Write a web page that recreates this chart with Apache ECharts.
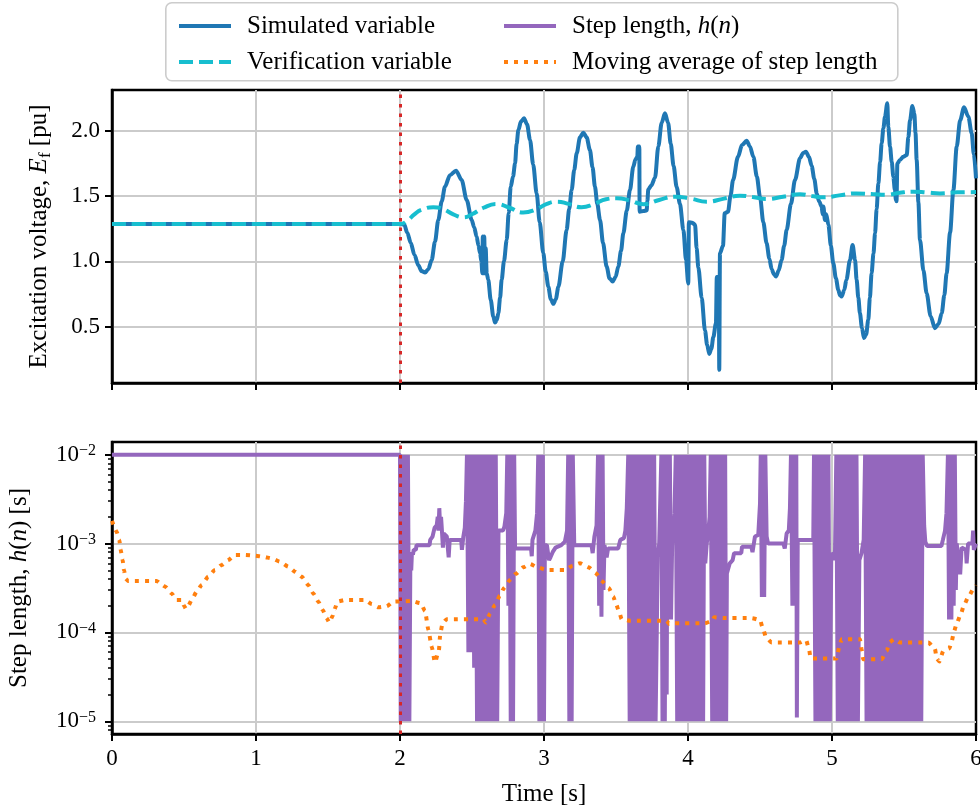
<!DOCTYPE html>
<html><head><meta charset="utf-8">
<script src="https://cdn.jsdelivr.net/npm/echarts@6/dist/echarts.min.js"></script>
<style>html,body{margin:0;padding:0;background:#fff}#c{width:980px;height:811px}</style>
</head><body><div id="c"></div>
<script>
// ---------- data (time [s], value) ----------
const timeTicks = [0, 1, 2, 3, 4, 5, 6];
const voltageTicks = [0.5, 1.0, 1.5, 2.0];
const stepTicks = [1e-5, 1e-4, 1e-3, 1e-2];
const stepMinorTicks = [8e-6, 9e-6, 2e-5, 3e-5, 4e-5, 5e-5, 6e-5, 7e-5, 8e-5, 9e-5, 2e-4, 3e-4, 4e-4, 5e-4, 6e-4, 7e-4, 8e-4, 9e-4, 2e-3, 3e-3, 4e-3, 5e-3, 6e-3, 7e-3, 8e-3, 9e-3];
const disturbanceTime = 2.0;

const simulatedVariable = [
[0,1.286],[2.0,1.286],[2.03,1.28],[2.05,1.22],[2.075,1.14],[2.1,1.05],[2.127,0.97],[2.15,0.925],[2.174,0.914],[2.197,0.94],[2.22,1.01],[2.243,1.15],[2.266,1.317],[2.29,1.46],[2.312,1.571],[2.347,1.66],[2.389,1.694],[2.428,1.623],[2.463,1.47],[2.498,1.317],[2.515,1.26],[2.532,1.19],[2.545,1.12],[2.556,1.062],[2.565,1.0],[2.572,0.909],[2.575,1.19],[2.58,0.909],[2.585,1.19],[2.59,0.909],[2.595,1.1],[2.602,0.909],[2.613,0.858],[2.63,0.705],[2.648,0.577],[2.66,0.531],[2.672,0.55],[2.683,0.603],[2.695,0.72],[2.706,0.858],[2.722,1.0],[2.741,1.164],[2.755,1.37],[2.769,1.571],[2.785,1.65],[2.799,1.75],[2.81,1.9],[2.822,2.005],[2.84,2.07],[2.861,2.095],[2.882,2.05],[2.903,1.93],[2.925,1.74],[2.949,1.52],[2.97,1.3],[2.995,1.062],[3.012,0.92],[3.03,0.806],[3.047,0.71],[3.065,0.674],[3.082,0.71],[3.1,0.806],[3.13,1.0],[3.157,1.24],[3.175,1.40],[3.192,1.546],[3.21,1.70],[3.227,1.827],[3.25,1.95],[3.273,1.985],[3.296,1.95],[3.319,1.852],[3.337,1.72],[3.354,1.571],[3.37,1.44],[3.389,1.317],[3.41,1.14],[3.435,0.96],[3.455,0.87],[3.477,0.845],[3.497,0.88],[3.516,0.96],[3.535,1.08],[3.551,1.215],[3.575,1.39],[3.597,1.546],[3.62,1.724],[3.635,1.78],[3.648,1.80],[3.652,1.88],[3.662,1.88],[3.664,1.38],[3.69,1.385],[3.713,1.39],[3.718,1.46],[3.724,1.55],[3.745,1.58],[3.771,1.64],[3.794,1.88],[3.817,2.06],[3.84,2.133],[3.862,2.06],[3.88,1.90],[3.90,1.73],[3.921,1.57],[3.944,1.44],[3.968,1.24],[3.986,1.01],[4.002,0.83],[4.006,1.30],[4.03,1.295],[4.049,1.28],[4.06,1.10],[4.072,0.95],[4.095,0.72],[4.118,0.47],[4.133,0.36],[4.148,0.291],[4.162,0.33],[4.176,0.42],[4.194,0.526],[4.2,0.88],[4.21,0.88],[4.215,0.6],[4.217,0.169],[4.222,1.06],[4.243,1.12],[4.255,1.368],[4.278,1.38],[4.295,1.50],[4.313,1.623],[4.347,1.80],[4.375,1.89],[4.407,1.923],[4.43,1.88],[4.454,1.80],[4.478,1.65],[4.5,1.495],[4.523,1.30],[4.546,1.138],[4.565,1.02],[4.581,0.94],[4.597,0.90],[4.611,0.883],[4.63,0.93],[4.65,1.01],[4.668,1.12],[4.685,1.24],[4.715,1.44],[4.743,1.623],[4.778,1.79],[4.80,1.83],[4.819,1.84],[4.84,1.80],[4.859,1.73],[4.877,1.63],[4.894,1.52],[4.91,1.46],[4.928,1.42],[4.935,1.36],[4.94,1.42],[4.951,1.317],[4.96,1.36],[4.975,1.28],[4.992,1.12],[5.009,0.985],[5.027,0.87],[5.044,0.78],[5.055,0.74],[5.067,0.73],[5.085,0.78],[5.10,0.858],[5.125,1.01],[5.143,1.125],[5.16,1.01],[5.171,0.858],[5.183,0.72],[5.194,0.603],[5.208,0.49],[5.222,0.412],[5.237,0.44],[5.252,0.552],[5.263,0.72],[5.275,0.909],[5.288,1.06],[5.299,1.215],[5.31,1.40],[5.322,1.597],[5.334,1.76],[5.345,1.904],[5.357,2.02],[5.368,2.107],[5.384,2.21],[5.391,2.03],[5.403,1.878],[5.415,1.76],[5.426,1.648],[5.436,1.55],[5.444,1.47],[5.448,1.46],[5.454,1.75],[5.472,1.776],[5.495,1.80],[5.519,1.814],[5.53,1.95],[5.542,2.08],[5.558,2.19],[5.572,2.13],[5.58,1.98],[5.588,1.776],[5.60,1.45],[5.611,1.164],[5.635,0.93],[5.657,0.756],[5.685,0.58],[5.715,0.488],[5.74,0.52],[5.762,0.603],[5.78,0.74],[5.796,0.909],[5.82,1.22],[5.843,1.546],[5.866,1.878],[5.89,2.08],[5.917,2.18],[5.947,2.107],[5.97,1.98],[5.985,1.82],[6.0,1.636]
];

const verificationVariable = [
[0,1.286],[2.0,1.286],[2.05,1.31],[2.1,1.36],[2.15,1.395],[2.231,1.414],[2.3,1.40],[2.37,1.36],[2.44,1.337],[2.5,1.36],[2.58,1.41],[2.671,1.439],[2.76,1.41],[2.856,1.373],[2.95,1.40],[3.02,1.44],[3.088,1.457],[3.17,1.44],[3.261,1.414],[3.35,1.44],[3.43,1.475],[3.505,1.483],[3.6,1.465],[3.69,1.437],[3.8,1.47],[3.91,1.495],[4.02,1.48],[4.13,1.457],[4.25,1.48],[4.361,1.503],[4.45,1.492],[4.546,1.477],[4.66,1.495],[4.778,1.513],[4.86,1.50],[4.94,1.49],[5.05,1.505],[5.171,1.52],[5.28,1.515],[5.38,1.51],[5.47,1.525],[5.565,1.533],[5.66,1.527],[5.75,1.52],[5.87,1.528],[6.0,1.53]
];

const stepLength = [
[0,1e-2],[2.0,1e-2],
[2.005,1e-5],[2.015,1e-2],[2.025,1e-5],[2.035,1e-2],[2.045,1e-5],[2.055,1e-2],[2.065,1e-5],
[2.072,7e-4],[2.078,5e-4],[2.083,8e-4],[2.09,7.5e-4],[2.095,8.5e-4],[2.11,8.5e-4],[2.115,9.6e-4],[2.205,9.6e-4],[2.21,1.1e-3],[2.222,1.1e-3],[2.226,1.2e-3],[2.235,1.2e-3],[2.24,1.5e-3],[2.255,1.6e-3],[2.262,2.0e-3],[2.267,1.4e-3],[2.273,2.5e-3],[2.278,1.6e-3],[2.285,2.0e-3],[2.29,1.5e-3],[2.298,9e-4],[2.303,1.3e-3],[2.325,1.2e-3],[2.338,7e-4],[2.345,1.1e-3],[2.425,1.1e-3],[2.43,8.5e-4],[2.44,1.2e-3],[2.45,1.5e-3],[2.458,3e-3],
[2.465,1e-2],[2.475,6e-5],[2.485,1e-2],[2.495,6e-5],[2.505,1e-2],[2.515,4e-5],[2.525,1e-2],[2.535,1e-5],[2.545,1e-2],[2.555,1e-5],[2.565,1e-2],[2.575,1e-5],[2.585,1e-2],[2.595,1e-5],[2.605,1e-2],[2.615,1e-5],[2.625,1e-2],[2.635,1e-5],[2.645,1e-2],[2.655,1e-5],[2.665,1e-2],[2.675,1e-5],
[2.684,1.4e-3],[2.715,1.4e-3],[2.725,1.55e-3],[2.738,2.2e-3],
[2.745,1e-2],[2.753,2e-4],[2.761,1e-2],[2.769,1e-5],[2.777,1e-2],[2.785,1e-5],[2.793,1e-2],
[2.799,8.8e-4],[2.91,8.8e-4],[2.915,7.2e-4],[2.92,1.1e-3],[2.94,1.4e-3],[2.952,2.2e-3],
[2.96,1e-2],[2.968,1e-5],[2.976,1e-2],[2.984,1e-5],[2.992,1e-2],[3.0,1e-5],
[3.006,9.6e-4],[3.02,9.6e-4],[3.035,6.5e-4],[3.045,7e-4],[3.06,8e-4],[3.08,9e-4],[3.12,9.6e-4],[3.145,1.05e-3],[3.16,1.4e-3],
[3.168,1e-2],[3.176,1e-5],[3.184,1e-2],[3.192,1e-5],[3.2,1e-2],
[3.21,9.6e-4],[3.33,9.6e-4],[3.338,7.8e-4],[3.35,1.2e-3],[3.365,1.6e-3],
[3.375,1e-2],[3.383,2e-4],[3.391,1e-2],[3.399,1.5e-4],[3.407,1e-2],[3.413,3e-4],
[3.42,9.6e-4],[3.435,7e-4],[3.445,8.8e-4],[3.515,8.8e-4],[3.53,1.1e-3],[3.555,1.15e-3],[3.565,1.4e-3],[3.575,2.5e-3],
[3.585,1e-2],[3.595,1e-5],[3.605,1e-2],[3.615,1e-5],[3.625,1e-2],[3.635,1e-5],[3.645,1e-2],[3.655,1e-5],[3.665,1e-2],[3.675,1e-5],[3.685,1e-2],[3.695,1e-5],[3.705,1e-2],[3.715,1e-5],[3.725,1e-2],[3.735,1e-5],[3.745,1e-2],[3.755,1e-5],[3.765,1e-2],[3.775,1e-5],
[3.79,7.1e-4],[3.80,1e-3],
[3.815,1e-2],[3.823,1e-5],[3.831,1e-2],[3.839,1e-5],[3.847,1e-2],[3.852,2e-5],[3.858,1e-2],[3.866,1.4e-4],[3.874,1e-2],[3.882,1.4e-4],
[3.89,1e-3],[3.9,1.4e-3],[3.906,2.2e-3],
[3.915,1e-2],[3.925,1e-5],[3.935,1e-2],[3.945,1e-5],[3.955,1e-2],[3.965,1e-5],[3.975,1e-2],[3.985,1e-5],[3.995,1e-2],[4.005,1e-5],[4.015,1e-2],[4.025,1e-5],[4.035,1e-2],[4.045,1e-5],[4.055,1e-2],[4.065,1e-5],[4.075,1e-2],[4.085,1e-5],[4.095,1e-2],[4.105,1e-5],[4.113,1e-2],
[4.12,6e-4],[4.13,1e-3],[4.14,1.3e-3],[4.15,2e-3],
[4.158,1e-2],[4.168,1e-5],[4.178,1e-2],[4.188,1e-5],[4.198,1e-2],[4.208,1e-5],[4.218,1e-2],[4.228,1e-5],[4.238,1e-2],[4.248,1e-5],[4.258,1e-2],[4.265,1e-5],
[4.27,4.6e-4],[4.29,6e-4],[4.31,6.5e-4],[4.32,7.8e-4],[4.37,7.8e-4],[4.375,9.2e-4],[4.44,9.2e-4],[4.448,8e-4],[4.465,1.2e-3],[4.488,1.25e-3],[4.5,2.8e-3],
[4.505,1e-2],[4.513,2.5e-4],[4.521,1e-2],[4.529,2.5e-4],[4.537,1e-2],
[4.546,1.2e-3],[4.556,1e-3],[4.662,1e-3],[4.672,8.8e-4],[4.685,1.3e-3],[4.70,1.4e-3],[4.708,2.5e-3],
[4.715,1e-2],[4.725,2e-4],[4.735,1e-2],[4.745,2e-4],[4.752,1e-2],[4.756,1.1e-5],
[4.762,1.1e-3],[4.87,1.1e-3],
[4.875,1e-2],[4.885,1e-5],[4.895,1e-2],[4.905,1e-5],[4.915,1e-2],[4.925,1e-5],[4.935,1e-2],[4.945,1e-5],[4.955,1e-2],[4.965,1e-5],[4.975,1e-2],[4.985,1e-5],
[4.995,7.4e-4],[5.01,7.8e-4],[5.02,6.5e-4],
[5.03,1e-2],[5.04,1e-5],[5.05,1e-2],[5.06,1e-5],[5.07,1e-2],[5.08,1e-5],[5.09,1e-2],[5.1,1e-5],[5.11,1e-2],[5.12,1e-5],[5.13,1e-2],[5.14,1e-5],[5.15,1e-2],[5.16,1e-5],[5.17,1e-2],[5.18,1e-5],
[5.19,6.5e-4],[5.205,7.8e-4],[5.22,1.1e-3],
[5.23,1e-2],[5.24,1e-5],[5.25,1e-2],[5.26,1e-5],[5.27,1e-2],[5.28,1e-5],[5.29,1e-2],[5.3,1e-5],[5.31,1e-2],[5.32,1e-5],[5.33,1e-2],[5.34,1e-5],[5.35,1e-2],[5.36,1e-5],[5.37,1e-2],[5.38,1e-5],[5.39,1e-2],[5.4,1e-5],[5.41,1e-2],[5.42,1e-5],[5.43,1e-2],[5.44,1e-5],[5.45,1e-2],[5.46,1e-5],[5.47,1e-2],[5.48,1e-5],[5.49,1e-2],[5.5,1e-5],[5.51,1e-2],[5.52,1e-5],[5.53,1e-2],[5.54,1e-5],[5.55,1e-2],[5.56,1e-5],[5.57,1e-2],[5.58,1e-5],[5.59,1e-2],[5.6,1e-5],[5.61,1e-2],[5.62,1e-5],[5.63,1e-2],
[5.64,1.6e-3],[5.648,1.05e-3],[5.66,9.4e-4],[5.76,9.4e-4],[5.77,1.1e-3],[5.785,1.4e-3],[5.795,2.2e-3],
[5.805,1e-2],[5.813,1.4e-4],[5.821,1e-2],[5.829,1.4e-4],[5.837,1e-2],[5.845,2e-4],[5.853,1e-2],[5.86,3e-4],
[5.866,1e-3],[5.876,7e-4],[5.89,4.5e-4],[5.9,9e-4],[5.93,8.5e-4],[5.935,6e-4],[5.945,1e-3],[5.975,1e-3],[5.98,1.4e-3],[5.985,8.5e-4],[6.0,1e-3]
];

const movingAverage = [
[0,1.8e-3],[0.032,1.36e-3],[0.051,1.1e-3],[0.06,8.5e-4],[0.074,6.5e-4],[0.083,5.0e-4],[0.097,4.0e-4],[0.11,3.8e-4],[0.31,3.8e-4],[0.333,3.57e-4],[0.37,3.27e-4],[0.414,2.75e-4],[0.449,2.32e-4],[0.484,2.32e-4],[0.5,2.0e-4],[0.514,1.84e-4],[0.53,2.0e-4],[0.553,2.32e-4],[0.588,2.88e-4],[0.623,3.42e-4],[0.669,4.25e-4],[0.715,5.05e-4],[0.762,5.75e-4],[0.808,6.53e-4],[0.854,7.44e-4],[0.924,7.44e-4],[0.993,7.3e-4],[1.051,7.1e-4],[1.109,6.8e-4],[1.167,6.25e-4],[1.225,5.5e-4],[1.271,4.83e-4],[1.317,4.25e-4],[1.363,3.42e-4],[1.398,2.75e-4],[1.433,2.22e-4],[1.463,1.79e-4],[1.491,1.44e-4],[1.509,1.29e-4],[1.53,1.51e-4],[1.549,1.87e-4],[1.565,2.22e-4],[1.62,2.32e-4],[1.757,2.32e-4],[1.803,2.09e-4],[1.85,1.92e-4],[1.907,1.97e-4],[1.954,2.22e-4],[2.08,2.26e-4],[2.144,2.13e-4],[2.174,1.74e-4],[2.197,1.07e-4],[2.22,6.9e-5],[2.243,4.6e-5],[2.27,6.3e-5],[2.28,9.8e-5],[2.296,1.27e-4],[2.324,1.41e-4],[2.579,1.41e-4],[2.597,1.29e-4],[2.625,1.62e-4],[2.66,2.04e-4],[2.694,2.6e-4],[2.722,3.16e-4],[2.764,3.9e-4],[2.803,4.55e-4],[2.856,5.4e-4],[2.903,5.9e-4],[2.954,5.4e-4],[3.019,5.05e-4],[3.146,5.05e-4],[3.197,5.6e-4],[3.25,6.0e-4],[3.31,5.4e-4],[3.361,4.63e-4],[3.40,3.8e-4],[3.45,3.16e-4],[3.481,2.53e-4],[3.50,2.09e-4],[3.52,1.74e-4],[3.539,1.41e-4],[3.597,1.35e-4],[3.852,1.35e-4],[3.87,1.24e-4],[3.90,1.27e-4],[4.118,1.27e-4],[4.17,1.35e-4],[4.181,1.48e-4],[4.245,1.45e-4],[4.442,1.45e-4],[4.5,1.38e-4],[4.52,1.11e-4],[4.542,8.8e-5],[4.581,7.7e-5],[4.778,7.7e-5],[4.82,8.2e-5],[4.84,6.5e-5],[4.852,5.1e-5],[5.032,5.1e-5],[5.051,6.9e-5],[5.067,8.4e-5],[5.194,8.4e-5],[5.206,6.4e-5],[5.217,5.0e-5],[5.345,5.0e-5],[5.38,6.2e-5],[5.398,7.7e-5],[5.431,8.4e-5],[5.472,7.7e-5],[5.669,7.7e-5],[5.715,6.5e-5],[5.727,5.1e-5],[5.745,4.7e-5],[5.773,6.2e-5],[5.815,6.6e-5],[5.831,7.9e-5],[5.847,1.02e-4],[5.866,1.26e-4],[5.894,1.6e-4],[5.917,2.04e-4],[5.947,2.5e-4],[5.981,3.06e-4],[6.0,3.4e-4]
];

// ---------- styling ----------
const FONT = "'Liberation Serif','DejaVu Serif',serif";
const FS = 23;      // tick labels
const FT = 25;      // titles / legend
const GRID_COLOR = '#cbcbcb';
const left = 112, plotW = 864;

const chart = echarts.init(document.getElementById('c'), null, {renderer: 'canvas'});

function xAxisCfg(gridIndex, showLabels) {
  return {
    type: 'value', gridIndex, min: 0, max: 6, interval: 1,
    axisLine: {show: true, onZero: false, lineStyle: {color: '#000', width: 2.5}},
    axisTick: {show: true, length: 7, lineStyle: {color: '#000', width: 2}},
    axisLabel: {show: showLabels, margin: 13, color: '#000', fontFamily: FONT, fontSize: FS},
    splitLine: {show: true, showMinLine: false, showMaxLine: false, lineStyle: {color: GRID_COLOR, width: 2}},
    name: showLabels ? 'Time [s]' : '',
    nameLocation: 'middle', nameGap: 48,
    nameTextStyle: {color: '#000', fontFamily: FONT, fontSize: FT}
  };
}

const dotted = [4, 6];
const redLine = {
  silent: true, symbol: ['none', 'none'], label: {show: false},
  lineStyle: {color: '#d62728', width: 3, type: [3.5, 6], cap: 'butt'},
  data: [{xAxis: disturbanceTime}], animation: false
};

const legendCommon = {
  orient: 'vertical', top: 8, z: 10,
  itemWidth: 52, itemHeight: 14, itemGap: 10,
  itemStyle: {opacity: 0, borderWidth: 0},
  lineStyle: {width: 4},
  selectedMode: false
};

const option = {
  animation: false,
  backgroundColor: '#fff',
  graphic: [{
    type: 'rect', left: 165, top: 2, z: 0,
    shape: {width: 732, height: 78, r: 6},
    style: {fill: '#fff', stroke: '#cccccc', lineWidth: 1.6}
  }],
  legend: [Object.assign({}, legendCommon, {
    left: 172,
    data: ['Simulated variable', 'Verification variable'],
    textStyle: {color: '#000', fontFamily: FONT, fontSize: FT, lineHeight: 26, padding: [0, 0, 0, 11]}
  }), Object.assign({}, legendCommon, {
    left: 497,
    data: ['Step length, h(n)', 'Moving average of step length'],
    formatter: function (n) { return n === 'Step length, h(n)' ? 'Step length, {i|h}({i|n})' : n; },
    textStyle: {color: '#000', fontFamily: FONT, fontSize: FT, lineHeight: 26, padding: [0, 0, 0, 11],
      rich: {i: {fontStyle: 'italic', fontFamily: FONT, fontSize: FT, color: '#000'}}}
  })],
  grid: [
    {left: left, width: plotW, top: 90, height: 293, show: true, borderColor: '#000', borderWidth: 2.5, backgroundColor: 'transparent', containLabel: false, outerBoundsMode: 'none'},
    {left: left, width: plotW, top: 442, height: 292, show: true, borderColor: '#000', borderWidth: 2.5, backgroundColor: 'transparent', containLabel: false, outerBoundsMode: 'none'}
  ],
  xAxis: [xAxisCfg(0, false), xAxisCfg(1, true)],
  yAxis: [{
    type: 'value', gridIndex: 0, min: 0.068, max: 2.312, position: 'left',
    axisLine: {show: true, lineStyle: {color: '#000', width: 2.5}},
    axisTick: {show: true, length: 7, customValues: voltageTicks, lineStyle: {color: '#000', width: 2}},
    axisLabel: {show: true, customValues: voltageTicks, margin: 12, color: '#000', fontFamily: FONT, fontSize: FS,
      formatter: function (v) { return v.toFixed(1); }},
    splitLine: {show: true, lineStyle: {color: GRID_COLOR, width: 2}},
    name: 'Excitation voltage, {i|E}{s|f} [pu]',
    nameLocation: 'middle', nameGap: 58, nameRotate: 90,
    nameTextStyle: {color: '#000', fontFamily: FONT, fontSize: FT, lineHeight: 30,
      rich: {i: {fontStyle: 'italic', fontFamily: FONT, fontSize: FT, lineHeight: 30, color: '#000'},
             s: {fontFamily: FONT, fontSize: 17, lineHeight: 14, verticalAlign: 'bottom', color: '#000'}}}
  }, {
    type: 'log', logBase: 10, gridIndex: 1, min: 7.19e-6, max: 1.39e-2, position: 'left',
    axisLine: {show: true, lineStyle: {color: '#000', width: 2.5}},
    axisTick: {show: true, length: 7, customValues: stepTicks, lineStyle: {color: '#000', width: 2}},
    axisLabel: {show: true, customValues: stepTicks, margin: 16, color: '#000', fontFamily: FONT, fontSize: FS,
      formatter: function (v) { return '10{sup|\u2212' + Math.round(-Math.log10(v)) + '}'; },
      rich: {sup: {fontFamily: FONT, fontSize: 16, lineHeight: 14, verticalAlign: 'top', color: '#000'}}},
    splitLine: {show: true, lineStyle: {color: GRID_COLOR, width: 2}},
    name: 'Step length, {i|h}({i|n}) [s]',
    nameLocation: 'middle', nameGap: 80, nameRotate: 90,
    nameTextStyle: {color: '#000', fontFamily: FONT, fontSize: FT,
      rich: {i: {fontStyle: 'italic', fontFamily: FONT, fontSize: FT, color: '#000'}}}
  }, {
    type: 'log', logBase: 10, gridIndex: 1, min: 7.19e-6, max: 1.39e-2, position: 'left', offset: 0,
    axisLine: {show: false},
    axisTick: {show: true, length: 4, customValues: stepMinorTicks, lineStyle: {color: '#000', width: 1.5}},
    axisLabel: {show: false},
    splitLine: {show: false}
  }],
  series: [{
    name: 'Simulated variable', type: 'line', xAxisIndex: 0, yAxisIndex: 0,
    data: simulatedVariable, symbol: 'none', showSymbol: false, z: 3,
    smooth: 0.3, smoothMonotone: 'x',
    lineStyle: {color: '#1f77b4', width: 4, join: 'round'}, itemStyle: {color: '#1f77b4'}
  }, {
    name: 'Verification variable', type: 'line', xAxisIndex: 0, yAxisIndex: 0,
    data: verificationVariable, symbol: 'none', showSymbol: false, z: 4,
    smooth: 0.5,
    lineStyle: {color: '#17becf', width: 4, type: [14, 6], cap: 'butt'}, itemStyle: {color: '#17becf'},
    markLine: redLine
  }, {
    name: 'Step length, h(n)', type: 'line', xAxisIndex: 1, yAxisIndex: 1,
    data: stepLength, symbol: 'none', showSymbol: false, z: 3,
    lineStyle: {color: '#9467bd', width: 4, join: 'bevel'}, itemStyle: {color: '#9467bd'}
  }, {
    name: 'Moving average of step length', type: 'line', xAxisIndex: 1, yAxisIndex: 1,
    data: movingAverage, symbol: 'none', showSymbol: false, z: 4,
    smooth: 0.2, smoothMonotone: 'x',
    lineStyle: {color: '#ff7f0e', width: 4, type: dotted, cap: 'butt'}, itemStyle: {color: '#ff7f0e'},
    markLine: redLine
  }]
};
chart.setOption(option);
</script>
</body></html>
